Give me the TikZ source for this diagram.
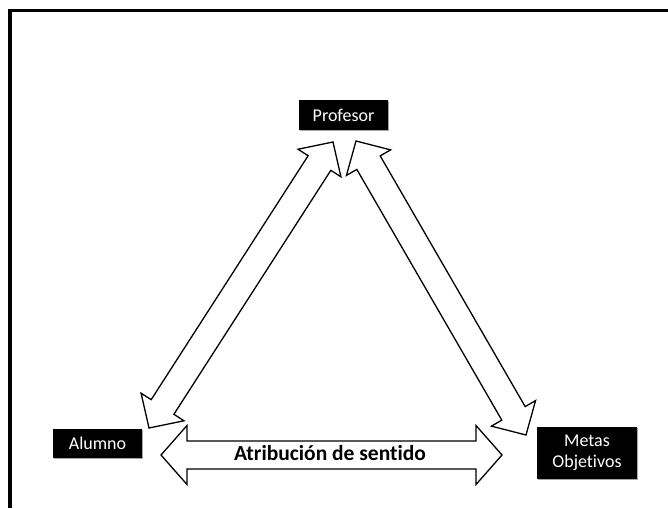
\documentclass[tikz,border=0pt]{standalone}
\usepackage{fontspec}
\setmainfont[Ligatures={NoCommon}]{Carlito}
\usetikzlibrary{calc,shadows}
\tikzset{
  box/.style={fill=black,text=white,align=center,inner sep=0pt,
    font=\fontsize{18}{21}\selectfont,
    drop shadow={shadow xshift=1.2pt,shadow yshift=-1.2pt,fill=black,opacity=0.35}},
  blockarrow/.style={draw=black,fill=white,line width=1.3pt,line join=miter},
  frameline/.style={line width=3.5pt,black}
}
\newcommand{\dblarrow}[5]{%
  \draw[blockarrow] (#1)
   -- ($(#1)!#3!(#2)!#4!90:(#2)$)
   -- ($(#1)!#3!(#2)!#5!90:(#2)$)
   -- ($(#2)!#3!(#1)!#5!-90:(#1)$)
   -- ($(#2)!#3!(#1)!#4!-90:(#1)$)
   -- (#2)
   -- ($(#2)!#3!(#1)!#4!90:(#1)$)
   -- ($(#2)!#3!(#1)!#5!90:(#1)$)
   -- ($(#1)!#3!(#2)!#5!-90:(#2)$)
   -- ($(#1)!#3!(#2)!#4!-90:(#2)$)
   -- cycle;}
\begin{document}
\begin{tikzpicture}[x=1pt,y=-1pt]
\useasboundingbox (0,0) rectangle (668,508);
\draw[frameline] (10,508) -- (10,10.5) -- (668,10.5);
% nodes
\node[box,minimum width=89pt,minimum height=30pt] (profesor) at (343.5,115) {Profesor};
\node[box,minimum width=89pt,minimum height=29pt] (alumno) at (97.5,443.5) {Alumno};
\node[box,minimum width=100pt,minimum height=52pt] (metas) at (587,452.5) {Metas\\Objetivos};
% arrow ends
\coordinate (la) at (149,428);
\coordinate (lb) at (333,142);
\coordinate (ra) at (356,141);
\coordinate (rb) at (526,435);
\coordinate (ha) at (161,455);
\coordinate (hb) at (502,455);
\dblarrow{la}{lb}{25pt}{25.5pt}{13.5pt}
\dblarrow{ra}{rb}{25pt}{25.5pt}{13.5pt}
\dblarrow{ha}{hb}{26pt}{29.5pt}{14pt}
\node[font=\fontsize{21.5}{24}\selectfont\bfseries] (atrib) at (330,453) {Atribución de sentido};
\end{tikzpicture}
\end{document}
